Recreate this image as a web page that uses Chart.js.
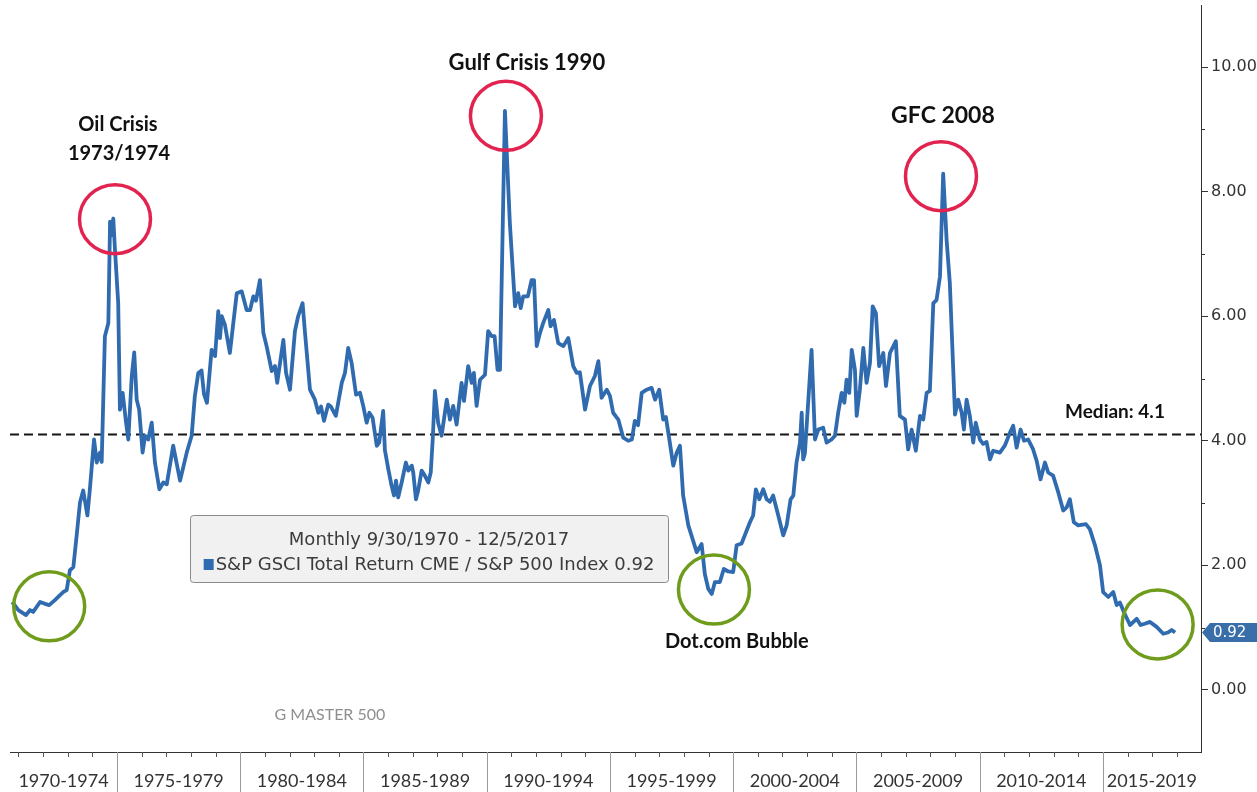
<!DOCTYPE html>
<html>
<head>
<meta charset="utf-8">
<script src="https://cdn.jsdelivr.net/npm/chart.js@4.4.0/dist/chart.umd.min.js"></script>
<style>
html,body{margin:0;padding:0;background:#fff;}
#contenedor{width:1257px;height:792px;}
</style>
</head>
<body>
<div id="contenedor"><canvas id="grafica" width="1257" height="792"></canvas></div>
<script>
// fechas en años decimales (mensual 9/1970 - 12/2017)
var fechas = [
  1970.75,1971.00,1971.31,1971.47,1971.60,1971.88,1972.08,1972.25,1972.48,1972.69,1972.82,1972.96,
  1973.09,1973.23,1973.37,1973.50,1973.63,1973.80,1973.90,1974.07,1974.18,1974.31,1974.38,1974.51,
  1974.65,1974.72,1974.78,1974.85,1974.92,1975.05,1975.12,1975.23,1975.37,1975.46,1975.60,1975.70,
  1975.80,1975.90,1976.04,1976.14,1976.27,1976.41,1976.54,1976.72,1976.88,1977.02,1977.28,1977.56,
  1977.83,1978.03,1978.16,1978.30,1978.43,1978.53,1978.65,1978.84,1978.98,1979.11,1979.18,1979.25,
  1979.38,1979.58,1979.86,1980.06,1980.26,1980.40,1980.53,1980.64,1980.80,1980.94,1981.07,1981.28,
  1981.41,1981.50,1981.75,1981.86,1982.02,1982.22,1982.35,1982.53,1982.63,1982.83,1983.03,1983.17,
  1983.28,1983.40,1983.57,1983.68,1983.88,1984.12,1984.25,1984.38,1984.52,1984.70,1984.86,1984.99,
  1985.13,1985.24,1985.37,1985.54,1985.64,1985.80,1985.87,1986.01,1986.14,1986.24,1986.32,1986.41,
  1986.55,1986.72,1986.82,1986.96,1987.02,1987.13,1987.22,1987.36,1987.49,1987.63,1987.73,1987.81,
  1987.90,1988.03,1988.17,1988.38,1988.51,1988.64,1988.78,1988.98,1989.08,1989.25,1989.39,1989.48,
  1989.59,1989.73,1989.93,1990.06,1990.20,1990.32,1990.44,1990.54,1990.74,1990.81,1990.94,1991.15,
  1991.28,1991.38,1991.48,1991.67,1991.82,1991.92,1992.03,1992.16,1992.29,1992.50,1992.59,1992.73,
  1992.90,1993.11,1993.31,1993.51,1993.65,1993.78,1993.99,1994.19,1994.39,1994.53,1994.66,1994.87,
  1995.00,1995.13,1995.34,1995.54,1995.74,1995.89,1996.01,1996.14,1996.29,1996.49,1996.69,1996.83,
  1997.00,1997.16,1997.27,1997.43,1997.57,1997.71,1997.84,1997.97,1998.18,1998.52,1998.72,1998.85,
  1998.99,1999.13,1999.26,1999.46,1999.62,1999.80,2000.00,2000.14,2000.34,2000.52,2000.68,2000.81,
  2000.92,2001.06,2001.22,2001.36,2001.49,2001.62,2001.83,2002.03,2002.17,2002.33,2002.44,2002.57,
  2002.71,2002.78,2002.84,2002.91,2003.18,2003.32,2003.45,2003.65,2003.79,2003.99,2004.13,2004.26,
  2004.40,2004.51,2004.60,2004.71,2004.81,2004.94,2005.01,2005.14,2005.28,2005.41,2005.55,2005.66,
  2005.79,2005.92,2006.09,2006.20,2006.36,2006.60,2006.76,2006.97,2007.10,2007.24,2007.41,2007.58,
  2007.71,2007.85,2007.98,2008.12,2008.25,2008.39,2008.52,2008.66,2008.79,2009.00,2009.13,2009.27,
  2009.36,2009.47,2009.60,2009.74,2009.84,2010.01,2010.14,2010.28,2010.42,2010.55,2010.82,2011.02,
  2011.23,2011.36,2011.50,2011.66,2011.80,2011.97,2012.17,2012.31,2012.47,2012.65,2012.78,2012.98,
  2013.19,2013.39,2013.53,2013.66,2013.82,2014.00,2014.31,2014.47,2014.68,2014.88,2015.01,2015.22,
  2015.42,2015.56,2015.69,2015.85,2016.10,2016.37,2016.53,2016.70,2016.91,2017.18,2017.45,2017.64,
  2017.79,2017.93
];
// S&P GSCI Total Return / S&P 500
var ratio = [
  1.41,1.28,1.20,1.28,1.25,1.41,1.38,1.36,1.44,1.52,1.57,1.60,
  1.92,1.97,2.50,3.01,3.20,2.80,3.22,4.02,3.65,3.81,3.66,5.68,
  5.89,7.52,7.30,7.57,7.06,6.21,4.50,4.77,4.29,4.02,5.04,5.42,
  4.66,4.50,3.81,4.08,4.02,4.29,3.65,3.22,3.33,3.30,3.92,3.36,
  3.81,4.08,4.72,5.09,5.13,4.75,4.61,5.46,5.36,6.08,5.65,6.00,
  5.86,5.41,6.37,6.40,6.10,6.10,6.32,6.25,6.58,5.73,5.52,5.12,
  5.20,4.93,5.62,5.09,4.82,5.76,6.00,6.21,5.73,4.82,4.66,4.45,
  4.55,4.32,4.58,4.55,4.40,4.93,5.09,5.49,5.25,4.74,4.77,4.56,
  4.29,4.45,4.37,3.92,3.97,4.48,3.85,3.54,3.28,3.12,3.36,3.09,
  3.33,3.65,3.52,3.60,3.49,3.06,3.20,3.52,3.44,3.33,3.49,4.02,
  4.80,4.29,4.08,4.66,4.34,4.56,4.26,4.93,4.64,5.20,4.93,5.09,
  4.56,4.98,5.06,5.76,5.68,5.68,5.14,5.14,9.30,8.66,7.49,6.16,
  6.37,6.13,6.32,6.32,6.58,6.58,5.52,5.73,5.89,6.10,5.84,5.94,
  5.57,5.52,5.65,5.20,5.09,5.10,4.50,4.88,5.04,5.28,4.69,4.82,
  4.72,4.45,4.34,4.05,4.00,4.02,4.32,4.25,4.77,4.82,4.85,4.66,
  4.82,4.34,4.38,3.97,3.60,3.81,3.92,3.12,2.64,2.21,2.34,1.86,
  1.62,1.54,1.73,1.73,1.94,1.90,1.89,2.32,2.35,2.53,2.69,2.80,
  3.22,3.06,3.22,3.06,3.02,3.12,2.80,2.48,2.64,3.06,3.12,3.65,
  3.97,4.45,3.70,3.80,5.46,4.02,4.18,4.21,3.97,4.02,4.08,4.45,
  4.77,4.61,4.98,4.77,5.46,5.14,4.40,4.82,5.49,4.93,5.25,6.16,
  6.05,5.20,5.41,4.88,5.41,5.60,4.40,4.34,3.86,4.18,3.84,4.40,
  4.34,4.77,4.80,6.21,6.26,6.64,8.29,7.22,6.53,4.42,4.66,4.45,
  4.18,4.66,4.40,3.97,4.29,4.02,3.95,3.98,3.70,3.84,3.81,3.92,
  4.13,4.24,3.89,4.18,4.00,4.02,3.86,3.68,3.38,3.65,3.49,3.44,
  3.17,2.88,2.93,3.06,2.69,2.64,2.66,2.58,2.32,2.00,1.57,1.49,
  1.57,1.36,1.40,1.25,1.04,1.14,1.04,1.06,1.09,1.01,0.90,0.92,
  0.96,0.92
];
var periodos = ['1970-1974','1975-1979','1980-1984','1985-1989','1990-1994','1995-1999','2000-2004','2005-2009','2010-2014','2015-2019'];
var inicioPeriodo = [1970,1975,1980,1985,1990,1995,2000,2005,2010,2015];
var ticksY = [0,2,4,6,8,10];
var mediana = 4.1;
var ultimo = 0.92;
var xMin = 1970.66, xMax = 2018.98;

// circulos de eventos: centro en (año, valor)
var circulos = [
  {x:1974.92, y:7.56, color:'#e2234f'},
  {x:1990.78, y:9.22, color:'#e2234f'},
  {x:2008.43, y:8.25, color:'#e2234f'},
  {x:1972.25, y:1.34, color:'#6f9c1c'},
  {x:1999.22, y:1.61, color:'#6f9c1c'},
  {x:2017.22, y:1.05, color:'#6f9c1c'}
];
var notas = [
  {t:'Oil Crisis', x:1975.04, y:9.08, size:20},
  {t:'1973/1974', x:1975.08, y:8.62, size:20},
  {t:'Gulf Crisis 1990', x:1991.63, y:10.07, size:22},
  {t:'GFC 2008', x:2008.51, y:9.22, size:23},
  {t:'Dot.com Bubble', x:2000.15, y:0.78, size:20},
  {t:'Median: 4.1', x:2015.49, y:4.47, size:19}
];

var centros = inicioPeriodo.map(function(a){
  var ini = Math.max(a, xMin), fin = Math.min(a + 5, xMax);
  return (ini + fin) / 2;
});

var puntos = fechas.map(function(f, i){ return {x: f, y: ratio[i]}; });

var decoracion = {
  id: 'decoracion',
  beforeDatasetsDraw: function(chart){
    var ctx = chart.ctx, ey = chart.scales.y, area = chart.chartArea;
    var ym = ey.getPixelForValue(mediana);
    ctx.save();
    ctx.setLineDash([9, 5]);
    ctx.lineWidth = 2;
    ctx.strokeStyle = '#151515';
    ctx.beginPath();
    ctx.moveTo(area.left, ym);
    ctx.lineTo(area.right, ym);
    ctx.stroke();
    ctx.restore();
  },
  afterDatasetsDraw: function(chart){
    var ctx = chart.ctx, ex = chart.scales.x, ey = chart.scales.y;
    ctx.save();
    // circulos
    ctx.lineWidth = 3.5;
    circulos.forEach(function(c){
      ctx.strokeStyle = c.color;
      ctx.beginPath();
      ctx.ellipse(ex.getPixelForValue(c.x), ey.getPixelForValue(c.y), 35.5, 34.5, 0, 0, Math.PI * 2);
      ctx.stroke();
    });
    // textos
    ctx.fillStyle = '#111';
    ctx.textAlign = 'center';
    ctx.textBaseline = 'middle';
    notas.forEach(function(n){
      ctx.font = 'bold ' + n.size + 'px Lato';
      ctx.fillText(n.t, ex.getPixelForValue(n.x), ey.getPixelForValue(n.y));
    });
    // marca de agua
    ctx.font = '16px Lato';
    ctx.fillStyle = '#8f8f8f';
    ctx.fillText('G MASTER 500', ex.getPixelForValue(1983.64), ey.getPixelForValue(-0.40));

    // caja de leyenda
    ctx.beginPath();
    ctx.roundRect(190.5, 515.5, 478, 67, 3);
    ctx.fillStyle = '#f1f1f1';
    ctx.fill();
    ctx.lineWidth = 1;
    ctx.strokeStyle = '#8a8a8a';
    ctx.stroke();
    ctx.font = '18px "DejaVu Sans"';
    ctx.fillStyle = '#3b3b3b';
    ctx.fillText('Monthly 9/30/1970 - 12/5/2017', 429, 540);
    var linea = 'S&P GSCI Total Return CME / S&P 500 Index 0.92';
    var w = ctx.measureText(linea).width;
    var x0 = 429 - (w + 12) / 2;
    ctx.fillStyle = '#2f6bae';
    ctx.fillRect(x0, 559, 10, 11);
    ctx.fillStyle = '#3b3b3b';
    ctx.textAlign = 'left';
    ctx.fillText(linea, x0 + 12, 565);
    ctx.restore();
  },
  afterDraw: function(chart){
    var ctx = chart.ctx, ex = chart.scales.x, ey = chart.scales.y, area = chart.chartArea;
    ctx.save();
    // marcas anuales y separadores de periodo
    ctx.lineWidth = 1;
    for (var a = 1971; a <= 2018; a++) {
      var px = Math.round(ex.getPixelForValue(a)) + 0.5;
      ctx.beginPath();
      if (a % 5 == 0) {
        ctx.strokeStyle = '#9a9a9a';
        ctx.moveTo(px, area.bottom);
        ctx.lineTo(px, chart.height);
      } else {
        ctx.strokeStyle = '#555';
        ctx.moveTo(px, area.bottom);
        ctx.lineTo(px, area.bottom + 5);
      }
      ctx.stroke();
    }
    // marcas menores eje y
    ctx.strokeStyle = '#333';
    for (var v = 1; v <= 9; v += 2) {
      var py = Math.round(ey.getPixelForValue(v)) + 0.5;
      ctx.beginPath();
      ctx.moveTo(area.right, py);
      ctx.lineTo(area.right + 4, py);
      ctx.stroke();
    }
    // etiqueta del ultimo valor
    var yv = ey.getPixelForValue(ultimo);
    var xl = area.right + 1;
    ctx.beginPath();
    ctx.moveTo(xl, yv);
    ctx.lineTo(xl + 8, yv - 9.5);
    ctx.lineTo(chart.width, yv - 9.5);
    ctx.lineTo(chart.width, yv + 9.5);
    ctx.lineTo(xl + 8, yv + 9.5);
    ctx.closePath();
    ctx.fillStyle = '#3a6ea8';
    ctx.fill();
    ctx.font = '15px "DejaVu Sans"';
    ctx.fillStyle = '#fff';
    ctx.textAlign = 'left';
    ctx.textBaseline = 'middle';
    ctx.fillText(ultimo.toFixed(2), xl + 11, yv + 0.5);
    ctx.restore();
  }
};

var grafica = document.getElementById('grafica').getContext('2d');
var chart = new Chart(grafica, {
  type: 'line',
  data: {
    datasets: [{
      label: 'S&P GSCI Total Return CME / S&P 500 Index',
      data: puntos,
      borderColor: '#2f6bae',
      borderWidth: 3.8,
      borderJoinStyle: 'round',
      pointRadius: 0,
      tension: 0,
      fill: false
    }]
  },
  options: {
    responsive: false,
    animation: false,
    layout: {padding: {left: 10, top: 5, right: 0, bottom: 0}},
    plugins: {legend: {display: false}, tooltip: {enabled: false}},
    scales: {
      x: {
        type: 'linear',
        min: xMin,
        max: xMax,
        afterBuildTicks: function(eje){ eje.ticks = centros.map(function(v){ return {value: v}; }); },
        afterFit: function(eje){ eje.height = 40; eje.paddingLeft = 0; eje.paddingRight = 0; },
        grid: {display: false, drawTicks: false},
        border: {display: true, color: '#333', width: 1},
        ticks: {
          autoSkip: false, maxRotation: 0, padding: 18, color: '#333',
          font: {family: 'Lato', size: 18},
          callback: function(v, i){ return periodos[i]; }
        }
      },
      y: {
        position: 'right',
        min: -1,
        max: 11,
        afterBuildTicks: function(eje){ eje.ticks = ticksY.map(function(v){ return {value: v}; }); },
        afterFit: function(eje){ eje.width = 56; eje.paddingTop = 0; eje.paddingBottom = 0; },
        grid: {drawOnChartArea: false, drawTicks: true, tickLength: 7, color: '#333'},
        border: {display: true, color: '#333'},
        ticks: {
          padding: 3, color: '#333',
          font: {family: 'DejaVu Sans', size: 16},
          callback: function(v){ return v.toFixed(2); }
        }
      }
    }
  },
  plugins: [decoracion]
});
</script>
</body>
</html>
